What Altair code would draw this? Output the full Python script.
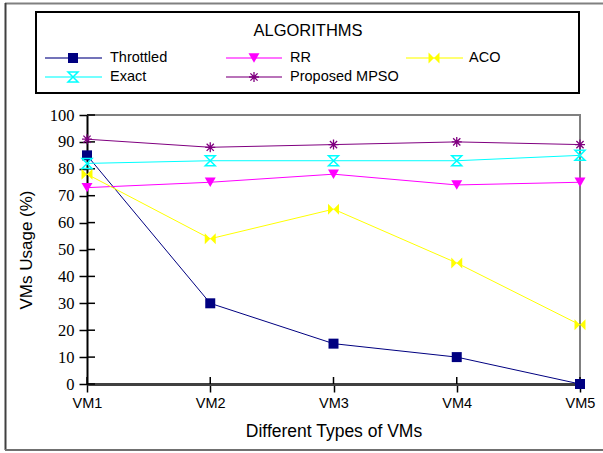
import altair as alt
import pandas as pd

# ---- data ----
vms = ["VM1", "VM2", "VM3", "VM4", "VM5"]
series_names = ["Throttled", "RR", "ACO", "Exact", "Proposed MPSO"]
throttled = [85, 30, 15, 10, 0]
rr = [73, 75, 78, 74, 75]
aco = [78, 54, 65, 45, 22]
exact = [82, 83, 83, 83, 85]
mpso = [91, 88, 89, 90, 89]
y_ticks = [0, 10, 20, 30, 40, 50, 60, 70, 80, 90, 100]

values = [throttled, rr, aco, exact, mpso]
rows = []
for name, vals in zip(series_names, values):
    for vm, v in zip(vms, vals):
        rows.append({"vm": vm, "value": v, "series": name})
df = pd.DataFrame(rows)

# ---- styles ----
BOWTIE = "M-1,-1L0,0L-1,1Z M1,-1L0,0L1,1Z"
HOURGLASS = "M-1,-1L1,-1L-1,1L1,1Z"
ASTERISK = "M-1,0L1,0M0,-1L0,1M-0.72,-0.72L0.72,0.72M-0.72,0.72L0.72,-0.72"
styles = {
    "Throttled": dict(color="#000080", shape="square", filled=True, size=100, sw=1),
    "RR": dict(color="#FF00FF", shape="triangle-down", filled=True, size=120, sw=1),
    "ACO": dict(color="#FFFF00", shape=BOWTIE, filled=True, size=120, sw=1),
    "Exact": dict(color="#00FFFF", shape=HOURGLASS, filled=False, size=100, sw=1.5),
    "Proposed MPSO": dict(color="#800080", shape=ASTERISK, filled=False, size=100, sw=1.3),
}

W, H = 493, 269
SANS = "Liberation Sans"
SERIF = "Liberation Serif"

xscale = alt.Scale(type="point", padding=0, domain=vms)
yscale = alt.Scale(domain=[0, 100], nice=False)

xaxis = alt.Axis(title="Different Types of VMs", labelAngle=0, labelFont=SANS,
                 labelFontSize=14.5, labelColor="#000", labelPadding=4,
                 labelOverlap=False,
                 tickSize=8, tickColor="#000", tickWidth=1.5,
                 domainColor="#404040", domainWidth=3,
                 titleFont=SANS, titleFontSize=17.5, titleFontWeight="normal",
                 titleColor="#000", titlePadding=13)
yaxis = alt.Axis(title="VMs Usage (%)", values=y_ticks, grid=False,
                 labelFont=SERIF, labelFontSize=16.5, labelColor="#000",
                 labelOverlap=False,
                 labelPadding=5, tickSize=8, tickColor="#000", tickWidth=1.5,
                 domainColor="#000", domainWidth=2,
                 titleFont=SANS, titleFontSize=17, titleFontWeight="normal",
                 titleColor="#000", titlePadding=14)
xenc = alt.X("vm:O", sort=vms, scale=xscale, axis=xaxis)
yenc = alt.Y("value:Q", scale=yscale, axis=yaxis)

one = alt.Data(values=[{"a": 1}])
OX, OY = 87, 115  # plot origin in the page

def rule(x1, y1, x2, y2, color, sw, opacity=1.0):
    return alt.Chart(one).mark_rule(color=color, strokeWidth=sw, opacity=opacity).encode(
        x=alt.value(x1 - OX), x2=alt.value(x2 - OX), y=alt.value(y1 - OY), y2=alt.value(y2 - OY))

# plot frame top / right (grey)
frame = [rule(OX, OY, OX + W + 1, OY, "#808080", 2),
         rule(OX + W, OY, OX + W, OY + H, "#808080", 2)]

base = alt.Chart(df)
line_layers = []
point_layers = []
for name in series_names:
    s = styles[name]
    sub = base.transform_filter(alt.datum.series == name)
    line_layers.append(sub.mark_line(color=s["color"], strokeWidth=1).encode(x=xenc, y=yenc))
    point_layers.append(
        sub.mark_point(shape=s["shape"], filled=s["filled"], size=s["size"],
                       color=s["color"], strokeWidth=s["sw"], opacity=1).encode(x=xenc, y=yenc))

# inward halves of crossing ticks (same axis definitions so merged axes stay intact)
tick_df = pd.DataFrame({"value": y_ticks})
ytick_in = alt.Chart(tick_df).mark_rule(color="#000", strokeWidth=1.5).encode(
    y=yenc, x=alt.value(0), x2=alt.value(8))
vm_df = pd.DataFrame({"vm": vms})
xtick_in = alt.Chart(vm_df).mark_rule(color="#000", strokeWidth=1.5).encode(
    x=xenc, y=alt.value(H - 7), y2=alt.value(H))

deco = []
# outer frame (top, left, bottom)
deco.append(rule(5, 3.5, 603, 3.5, "#808080", 2))
deco.append(rule(5.5, 3, 5.5, 450, "#404040", 2))
deco.append(rule(5, 450, 603, 450, "#707070", 2))
# legend box
deco.append(alt.Chart(one).mark_rect(fill="white", stroke="#000", strokeWidth=2).encode(
    x=alt.value(36 - OX), x2=alt.value(579 - OX), y=alt.value(12 - OY), y2=alt.value(93 - OY)))
deco.append(alt.Chart(one).mark_text(text="ALGORITHMS", font=SANS, fontSize=16.5,
                                      align="center", baseline="middle", color="#000").encode(
    x=alt.value(308 - OX), y=alt.value(31 - OY)))

legend_pos = {
    "Throttled": (45, 102, 73, 110, 58),
    "RR": (226, 282, 254, 290, 58),
    "ACO": (406, 463, 434, 469, 58),
    "Exact": (45, 102, 73, 110, 77),
    "Proposed MPSO": (226, 282, 254, 290, 77),
}
for name in series_names:
    s = styles[name]
    x1, x2, mx, lx, yy = legend_pos[name]
    deco.append(rule(x1, yy, x2, yy, s["color"], 2, 0.55))
    deco.append(alt.Chart(one).mark_point(shape=s["shape"], filled=s["filled"], size=s["size"],
                                          color=s["color"], strokeWidth=s["sw"], opacity=1).encode(
        x=alt.value(mx - OX), y=alt.value(yy - OY)))
    deco.append(alt.Chart(one).mark_text(text=name, font=SANS, fontSize=14.5, align="left",
                                          baseline="middle", color="#000").encode(
        x=alt.value(lx - OX), y=alt.value(yy - OY)))

chart = alt.layer(*frame, *line_layers, ytick_in, xtick_in, *point_layers, *deco).properties(
    width=W, height=H,
    autosize=alt.AutoSizeParams(type="none"),
    padding={"left": OX, "top": OY, "right": 603 - OX - W, "bottom": 453 - OY - H},
).configure_view(stroke=None).configure(background="white")

chart.save("out.html", embed_options={"renderer": "svg", "actions": False})
